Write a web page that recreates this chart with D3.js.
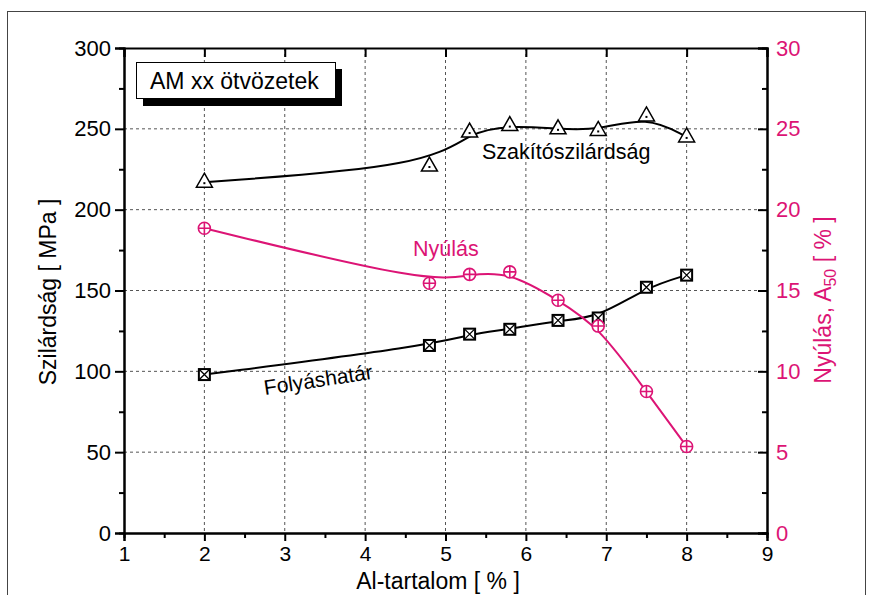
<!DOCTYPE html>
<html><head><meta charset="utf-8">
<script src="https://cdn.jsdelivr.net/npm/d3@7"></script>
<style>body{margin:0;background:#fff}svg{display:block;font-family:"Liberation Sans",Arial,sans-serif}</style>
</head><body><svg id="c" width="872" height="595"></svg>
<script>
const alContent = [2, 4.8, 5.3, 5.8, 6.4, 6.9, 7.5, 8.0];
const tensile = [217, 227, 248, 252, 250, 249, 258, 245];
const yieldStr = [98, 116, 123, 126, 131.5, 133, 152, 159.5];
const elongation = [18.85, 15.45, 16.0, 16.15, 14.4, 12.8, 8.75, 5.35];
const xTicks = [1, 2, 3, 4, 5, 6, 7, 8, 9];
const yLeftTicks = [0, 50, 100, 150, 200, 250, 300];
const yRightTicks = [0, 5, 10, 15, 20, 25, 30];

const MAG = "#dc1475";
const svg = d3.select("#c");
const L = 124, R = 767, T = 48, B = 533;
const x = d3.scaleLinear().domain([1, 9]).range([L, R]);
const yl = d3.scaleLinear().domain([0, 300]).range([B, T]);
const yr = d3.scaleLinear().domain([0, 30]).range([B, T]);

// outer frame
svg.append("rect").attr("x", 7.5).attr("y", 11.5).attr("width", 858).attr("height", 600)
  .attr("fill", "none").attr("stroke", "#444").attr("stroke-width", 1);

// grid
const g = svg.append("g");
g.selectAll(".gx").data(xTicks.slice(1, -1)).join("line")
  .attr("x1", d => x(d)).attr("x2", d => x(d)).attr("y1", T).attr("y2", B)
  .attr("stroke", "#555").attr("stroke-width", 1).attr("stroke-dasharray", "3,3");
g.selectAll(".gy").data(yLeftTicks.slice(1, -1)).join("line")
  .attr("y1", d => yl(d)).attr("y2", d => yl(d)).attr("x1", L).attr("x2", R)
  .attr("stroke", "#555").attr("stroke-width", 1).attr("stroke-dasharray", "3,3");

// axes
const axB = d3.axisBottom(x).tickValues(xTicks).tickSize(8).tickPadding(5).tickFormat(d3.format("d"));
const axBm = d3.axisBottom(x).tickValues(d3.range(1.5, 9, 1)).tickSize(5).tickFormat("");
const axL = d3.axisLeft(yl).tickValues(yLeftTicks).tickSize(9).tickPadding(4);
const axLm = d3.axisLeft(yl).tickValues(d3.range(25, 300, 50)).tickSize(5).tickFormat("");
const axR = d3.axisRight(yr).tickValues(yRightTicks).tickSize(-9).tickPadding(9);
const axRm = d3.axisRight(yr).tickValues(d3.range(2.5, 30, 5)).tickSize(-5).tickFormat("");
const axT = d3.axisTop(x).tickValues(xTicks).tickSize(-9).tickFormat("");

function style(sel, col) {
  sel.select(".domain").attr("stroke", "#000").attr("stroke-width", 2);
  sel.selectAll(".tick line").attr("stroke", "#000").attr("stroke-width", 2);
  sel.selectAll(".tick text").attr("fill", col).style("font-family", '"Liberation Sans",Arial,sans-serif');
}
const gb = svg.append("g").attr("transform", `translate(0,${B})`).call(axB);
style(gb, "#000"); gb.selectAll(".tick text").style("font-size", "21px");
const gbm = svg.append("g").attr("transform", `translate(0,${B})`).call(axBm); style(gbm, "#000");
const gl = svg.append("g").attr("transform", `translate(${L},0)`).call(axL);
style(gl, "#000"); gl.selectAll(".tick text").style("font-size", "22px");
const glm = svg.append("g").attr("transform", `translate(${L},0)`).call(axLm); style(glm, "#000");
const gr = svg.append("g").attr("transform", `translate(${R},0)`).call(axR);
style(gr, MAG); gr.selectAll(".tick text").style("font-size", "22px");
const grm = svg.append("g").attr("transform", `translate(${R},0)`).call(axRm); style(grm, "#000");
const gt = svg.append("g").attr("transform", `translate(0,${T})`).call(axT); style(gt, "#000");

// axis titles
svg.append("text").attr("x", 438).attr("y", 589).attr("text-anchor", "middle")
  .style("font-size", "23px").text("Al-tartalom [ % ]");
svg.append("text").attr("transform", `translate(56,292) rotate(-90)`)
  .attr("text-anchor", "middle").style("font-size", "23px").text("Szilárdság [ MPa ]");
const rt = svg.append("text").attr("transform", `translate(831,300) rotate(-90)`)
  .attr("text-anchor", "middle").attr("fill", MAG).style("font-size", "23px");
rt.append("tspan").text("Nyúlás, A");
rt.append("tspan").attr("dy", 5).style("font-size", "16px").text("50");
rt.append("tspan").attr("dy", -5).text(" [ % ]");

// curves
const curve = d3.curveBasis;
const lineL = d3.line().x((d, i) => x(alContent[i])).y(d => yl(d)).curve(curve);
const lineR = d3.line().x((d, i) => x(alContent[i])).y(d => yr(d)).curve(curve);
svg.append("path").attr("d", lineL(tensile)).attr("fill", "none").attr("stroke", "#000").attr("stroke-width", 2);
svg.append("path").attr("d", lineL(yieldStr)).attr("fill", "none").attr("stroke", "#000").attr("stroke-width", 2);
svg.append("path").attr("d", lineR(elongation)).attr("fill", "none").attr("stroke", MAG).attr("stroke-width", 2);

// markers: triangles
const tri = svg.append("g");
tensile.forEach((v, i) => {
  const cx = x(alContent[i]), cy = yl(v);
  tri.append("path").attr("d", `M${cx},${cy - 9}L${cx + 8},${cy + 5}L${cx - 8},${cy + 5}Z`)
    .attr("fill", "#fff").attr("stroke", "#000").attr("stroke-width", 1.5);
  tri.append("rect").attr("x", cx - 1).attr("y", cy).attr("width", 2).attr("height", 2).attr("fill", "#000");
});
// squares with X
const sq = svg.append("g");
yieldStr.forEach((v, i) => {
  const cx = x(alContent[i]), cy = yl(v), h = 5.5;
  sq.append("rect").attr("x", cx - h).attr("y", cy - h).attr("width", 2 * h).attr("height", 2 * h)
    .attr("fill", "#fff").attr("stroke", "#000").attr("stroke-width", 2);
  sq.append("path").attr("d", `M${cx - h},${cy - h}L${cx + h},${cy + h}M${cx + h},${cy - h}L${cx - h},${cy + h}`)
    .attr("stroke", "#000").attr("stroke-width", 1.3);
});
// circles with plus
const ci = svg.append("g");
elongation.forEach((v, i) => {
  const cx = x(alContent[i]), cy = yr(v), r = 6;
  ci.append("circle").attr("cx", cx).attr("cy", cy).attr("r", r)
    .attr("fill", "#fff").attr("stroke", MAG).attr("stroke-width", 1.6);
  ci.append("path").attr("d", `M${cx - r},${cy}L${cx + r},${cy}M${cx},${cy - r}L${cx},${cy + r}`)
    .attr("stroke", MAG).attr("stroke-width", 1.6);
});

// series labels
svg.append("text").attr("x", 482).attr("y", 159).style("font-size", "21.5px").text("Szakítószilárdság");
svg.append("text").attr("x", 413).attr("y", 256).attr("fill", MAG).style("font-size", "21.5px").text("Nyúlás");
svg.append("text").attr("transform", "translate(265,395) rotate(-8.5)").style("font-size", "21px").text("Folyáshatár");

// title box
svg.append("rect").attr("x", 143).attr("y", 69).attr("width", 199).attr("height", 37).attr("fill", "#000");
svg.append("rect").attr("x", 136.5).attr("y", 62.5).attr("width", 199).attr("height", 36)
  .attr("fill", "#fff").attr("stroke", "#000").attr("stroke-width", 1);
svg.append("text").attr("x", 150).attr("y", 89).style("font-size", "23px").text("AM xx ötvözetek");
</script></body></html>
